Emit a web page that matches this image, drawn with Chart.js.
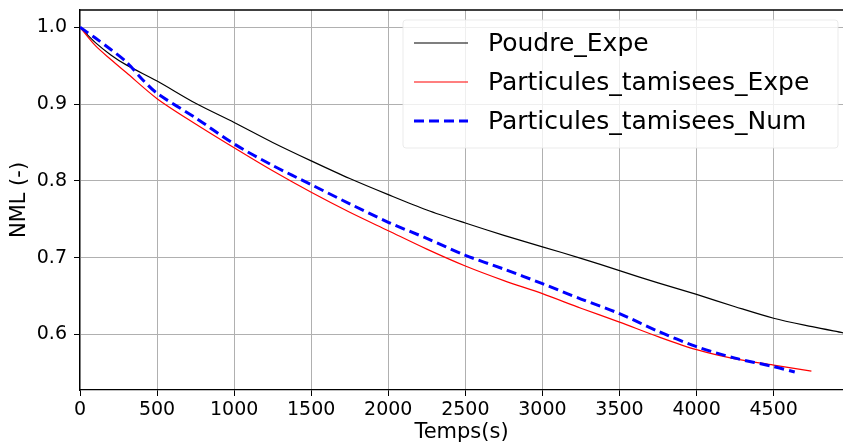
<!DOCTYPE html>
<html>
<head>
<meta charset="utf-8">
<script src="https://cdn.jsdelivr.net/npm/chart.js@4.4.0/dist/chart.umd.min.js"></script>
<style>
  body { margin: 0; background: #fff; }
  canvas { display: block; }
</style>
</head>
<body>
<canvas id="nmlChart" width="843" height="445"></canvas>
<script>
// time (s) and NML values
const poudreT = [0, 100, 200, 300, 500, 750, 1000, 1250, 1500, 1750, 2000, 2250, 2500, 2750, 3000, 3250, 3500, 3750, 4000, 4250, 4500, 4750, 4950];
const poudreExpe = [1.000, 0.980, 0.964, 0.951, 0.930, 0.901, 0.876, 0.850, 0.826, 0.803, 0.782, 0.762, 0.745, 0.729, 0.714, 0.699, 0.683, 0.667, 0.652, 0.636, 0.621, 0.610, 0.602];

const tamiseesExpeT = [0, 100, 200, 300, 500, 750, 1000, 1250, 1500, 1750, 2000, 2250, 2500, 2750, 3000, 3250, 3500, 3750, 4000, 4250, 4500, 4745];
const tamiseesExpe = [1.000, 0.976, 0.958, 0.941, 0.907, 0.874, 0.843, 0.813, 0.785, 0.759, 0.735, 0.711, 0.689, 0.670, 0.653, 0.634, 0.616, 0.597, 0.580, 0.568, 0.560, 0.552];

const tamiseesNumT = [0, 100, 200, 300, 400, 500, 750, 1000, 1250, 1500, 1750, 2000, 2250, 2500, 2750, 3000, 3250, 3500, 3750, 4000, 4250, 4500, 4637];
const tamiseesNum = [1.000, 0.986, 0.971, 0.955, 0.933, 0.914, 0.882, 0.848, 0.820, 0.795, 0.770, 0.746, 0.725, 0.703, 0.685, 0.666, 0.646, 0.627, 0.604, 0.584, 0.569, 0.558, 0.551];

const xTicks = [0, 500, 1000, 1500, 2000, 2500, 3000, 3500, 4000, 4500];
const yTicks = [0.6, 0.7, 0.8, 0.9, 1.0];

function toPoints(t, v) {
    return t.map((x, i) => ({ x: x, y: v[i] }));
}

const FONT = "'DejaVu Sans', sans-serif";

// matplotlib-like legend drawn inside the plot, top right
const insideLegend = {
    id: 'insideLegend',
    afterDatasetsDraw(chart) {
        const ctx = chart.ctx;
        const box = { x: 403, y: 20, w: 435, h: 128 };
        ctx.save();
        ctx.fillStyle = 'rgba(255,255,255,0.8)';
        ctx.strokeStyle = 'rgba(230,230,230,0.8)';
        ctx.lineWidth = 1;
        ctx.beginPath();
        ctx.roundRect(box.x, box.y, box.w, box.h, 3);
        ctx.fill();
        ctx.stroke();

        ctx.font = '25px ' + FONT;
        ctx.textBaseline = 'middle';
        ctx.textAlign = 'left';
        chart.data.datasets.forEach((ds, i) => {
            const y = 43 + i * 39;
            ctx.strokeStyle = ds.borderColor;
            ctx.lineWidth = ds.borderWidth;
            ctx.setLineDash(ds.borderDash || []);
            ctx.beginPath();
            ctx.moveTo(414, y);
            ctx.lineTo(468, y);
            ctx.stroke();
            ctx.setLineDash([]);
            ctx.fillStyle = '#000';
            ctx.fillText(ds.label, 488, y + 1);
        });
        ctx.restore();
    }
};

// top spine
const topSpine = {
    id: 'topSpine',
    afterDraw(chart) {
        const a = chart.chartArea;
        const ctx = chart.ctx;
        ctx.save();
        ctx.strokeStyle = '#000';
        ctx.lineWidth = 1.3;
        ctx.beginPath();
        ctx.moveTo(a.left, a.top);
        ctx.lineTo(a.right, a.top);
        ctx.stroke();
        ctx.restore();
    }
};

const ctx = document.getElementById('nmlChart').getContext('2d');

const nmlChart = new Chart(ctx, {
    type: 'line',
    data: {
        datasets: [{
            label: 'Poudre_Expe',
            data: toPoints(poudreT, poudreExpe),
            borderColor: '#000000',
            borderWidth: 1.2,
            order: 2
        }, {
            label: 'Particules_tamisees_Expe',
            data: toPoints(tamiseesExpeT, tamiseesExpe),
            borderColor: '#ff0000',
            borderWidth: 1.2,
            order: 1
        }, {
            label: 'Particules_tamisees_Num',
            data: toPoints(tamiseesNumT, tamiseesNum),
            borderColor: '#0000ff',
            borderWidth: 3,
            borderDash: [10, 5],
            order: 0
        }]
    },
    options: {
        responsive: false,
        animation: false,
        layout: { padding: { top: 10, right: 0, left: 0, bottom: 0 } },
        elements: {
            point: { radius: 0 },
            line: { tension: 0.3, fill: false }
        },
        plugins: {
            legend: { display: false },
            tooltip: { enabled: false }
        },
        scales: {
            x: {
                type: 'linear',
                min: 0,
                max: 4950,
                afterBuildTicks: s => { s.ticks = xTicks.map(v => ({ value: v })); },
                afterFit: s => { s.height = 55; s.paddingLeft = 0; s.paddingRight = 0; },
                grid: {
                    color: '#b0b0b0',
                    lineWidth: 1,
                    drawTicks: true,
                    tickLength: 6,
                    tickColor: '#000'
                },
                border: { display: true, color: '#000', width: 1.3 },
                ticks: {
                    padding: 3,
                    color: '#000',
                    maxRotation: 0,
                    font: { family: FONT, size: 19 },
                    callback: v => String(v)
                },
                title: {
                    display: true,
                    text: 'Temps(s)',
                    color: '#000',
                    font: { family: FONT, size: 21 },
                    padding: { top: 0, bottom: 0 }
                }
            },
            y: {
                type: 'linear',
                min: 0.5275,
                max: 1.0225,
                afterBuildTicks: s => { s.ticks = yTicks.map(v => ({ value: v })); },
                afterFit: s => { s.width = 80; s.paddingTop = 0; s.paddingBottom = 0; },
                grid: {
                    color: '#b0b0b0',
                    lineWidth: 1,
                    drawTicks: true,
                    tickLength: 6,
                    tickColor: '#000'
                },
                border: { display: true, color: '#000', width: 1.3 },
                ticks: {
                    padding: 7,
                    color: '#000',
                    font: { family: FONT, size: 19 },
                    callback: v => v.toFixed(1)
                },
                title: {
                    display: true,
                    text: 'NML (-)',
                    color: '#000',
                    font: { family: FONT, size: 21 },
                    padding: { top: 7, bottom: 4 }
                }
            }
        }
    },
    plugins: [insideLegend, topSpine]
});
</script>
</body>
</html>
